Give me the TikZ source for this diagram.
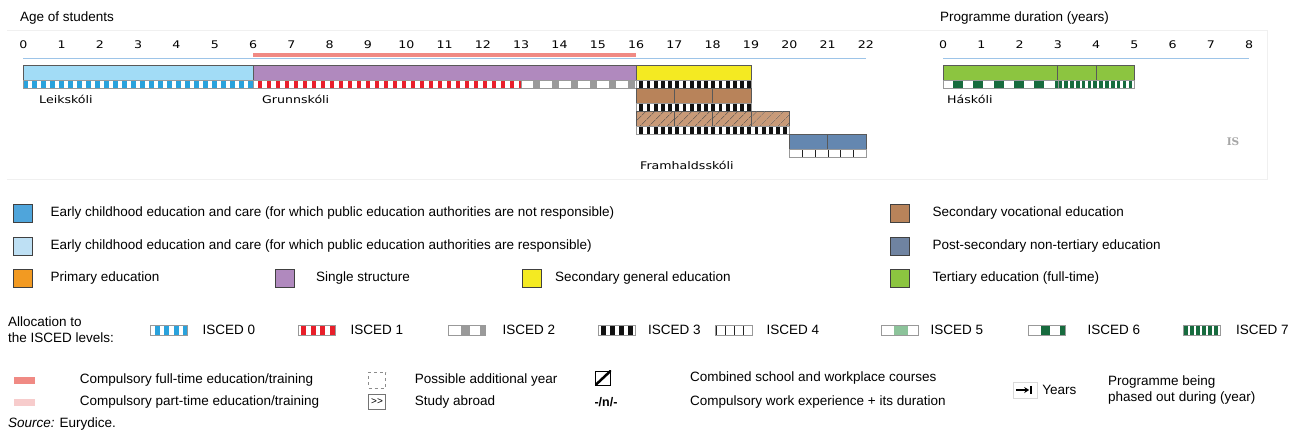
\documentclass[tikz,border=0pt]{standalone}
\usepackage{fontspec}
\setmainfont{Liberation Sans}
\newfontfamily\chartfont[FakeStretch=1.2]{DejaVu Sans}
\newfontfamily\isfont{DejaVu Serif}
\usetikzlibrary{positioning,patterns.meta,arrows.meta}

\definecolor{ececdark}{HTML}{4FA5DB}
\definecolor{ececlight}{HTML}{BEE0F4}
\definecolor{ececbar}{HTML}{A2DCF6}
\definecolor{primary}{HTML}{F29A22}
\definecolor{single}{HTML}{B089BE}
\definecolor{secgen}{HTML}{F4EA22}
\definecolor{secvoc}{HTML}{B8835A}
\definecolor{secvochatch}{HTML}{C89A78}
\definecolor{postsec}{HTML}{6487B0}
\definecolor{postseclegend}{HTML}{6F83A1}
\definecolor{tertiary}{HTML}{8CC540}
\definecolor{iscedzero}{HTML}{2AA2DC}
\definecolor{iscedone}{HTML}{E81F2A}
\definecolor{iscedtwo}{HTML}{9A9A9A}
\definecolor{iscedthree}{HTML}{111111}
\definecolor{iscedfour}{HTML}{222222}
\definecolor{iscedfive}{HTML}{8CC39A}
\definecolor{iscedsix}{HTML}{176B3E}
\definecolor{compfull}{HTML}{F08A84}
\definecolor{comppart}{HTML}{F7CCCC}
\definecolor{axisblue}{HTML}{9DC4E8}

% x position of an age / of a programme year (in px)
\newcommand{\age}[1]{(23.3+38.3*(#1))}
\newcommand{\dur}[1]{(943+38.25*(#1))}

% from, to, top, bottom, colour, cycle, offset, block
\newcommand{\levelstrip}[8]{%
    \begin{scope}
        \clip ({#1},#3) rectangle ({#2},#4);
        \fill[white] ({#1},#3) rectangle ({#2},#4);
        \pgfmathtruncatemacro\nblocks{((#2)-(#1))/(#6)}
        \foreach \k in {0,...,\nblocks}
            \fill[#5] ({#1+#7+\k*#6},#3) rectangle ++(#8,{#4-#3});
    \end{scope}
    \draw[stripedge] ({#1},#3) rectangle ({#2},#4);
}

\tikzset{
    headtext/.style = {
        anchor=west,
        inner sep=0pt,
        font=\fontsize{13.5}{15}\selectfont,
        },
    legtext/.style = {
        anchor=west,
        inner sep=0pt,
        align=left,
        font=\fontsize{13.5}{16}\selectfont,
        },
    age num/.style = {
        inner sep=0pt,
        font=\chartfont\fontsize{10.5}{12}\selectfont,
        },
    school/.style = {
        anchor=west,
        inner sep=0pt,
        font=\chartfont\fontsize{10.5}{12}\selectfont,
        },
    frame/.style = {
        draw=black!6,
        line width=0.6pt,
        },
    axis line/.style = {
        draw=axisblue,
        line width=1.3pt,
        },
    compulsory line/.style = {
        draw=compfull,
        line width=4pt,
        },
    barbox/.style = {
        draw=black!65,
        line width=0.6pt,
        },
    stripedge/.style = {
        draw=black!40,
        line width=0.5pt,
        },
    hatch/.style = {
        postaction = {
            pattern={Lines[angle=45,distance=6.5pt,line width=0.45pt]},
            pattern color=black!70,
            },
        },
    swatch/.style = {
        draw=black!75,
        line width=0.7pt,
        minimum width=19pt,
        minimum height=18pt,
        inner sep=0pt,
        },
}

\begin{document}
\begin{tikzpicture}[x=1pt,y=-1pt]
    \useasboundingbox (0,0) rectangle (1289,434);
    \fill[white] (0,0) rectangle (1289,434);

    \draw[frame] (7,30) -- (1267,30) -- (1267,179) -- (7,179);

    \node[headtext] (age title) at (20,18) {Age of students};
    \node[headtext] (prog title) at (940,18) {Programme duration (years)};

    % axes
    \draw[axis line] ({\age{0}},58.3) -- ({\age{22}},58.3);
    \draw[compulsory line] ({\age{6}},54.7) -- ({\age{16}},54.7);
    \foreach \a in {0,...,22}
        \node[age num] (age-\a) at ({\age{\a}},45) {\a};
    \draw[axis line] ({\dur{0}},58.3) -- ({\dur{8}},58.3);
    \foreach \b in {0,...,8}
        \node[age num] (dur-\b) at ({\dur{\b}},45) {\b};

    % Leikskoli
    \draw[barbox, fill=ececbar] ({\age{0}},65) rectangle ({\age{6}},80);
    \levelstrip{\age{0}}{\age{6}}{80}{88}{iscedzero}{9}{0}{4.5}
    % Grunnskoli
    \draw[barbox, fill=single] ({\age{6}},65) rectangle ({\age{16}},80);
    \levelstrip{\age{6}}{\age{13}}{80}{88}{iscedone}{9}{4.5}{4.5}
    \levelstrip{\age{13}}{\age{16}}{80}{88}{iscedtwo}{19}{12}{7}
    % Framhaldsskoli
    \draw[barbox, fill=secgen] ({\age{16}},65) rectangle ({\age{19}},80);
    \levelstrip{\age{16}}{\age{19}}{80}{88}{iscedthree}{7.2}{3.2}{3.8}
    \foreach \a in {16,17,18}
        \draw[barbox, fill=secvoc] ({\age{\a}},88) rectangle ({\age{\a+1}},103);
    \levelstrip{\age{16}}{\age{19}}{103}{111}{iscedthree}{7.2}{3.2}{3.8}
    \foreach \a in {16,...,19}
        \draw[barbox, fill=secvochatch, hatch] ({\age{\a}},111) rectangle ({\age{\a+1}},126);
    \levelstrip{\age{16}}{\age{20}}{126}{134}{iscedthree}{7.2}{3.2}{3.8}
    \foreach \a in {20,21}
        \draw[barbox, fill=postsec] ({\age{\a}},134) rectangle ({\age{\a+1}},149);
    \levelstrip{\age{20}}{\age{22}}{149}{157}{iscedfour}{12.77}{0}{0.8}
    % Haskoli
    \draw[barbox, fill=tertiary] ({\dur{0}},65) rectangle ({\dur{3}},80);
    \draw[barbox, fill=tertiary] ({\dur{3}},65) rectangle ({\dur{4}},80);
    \draw[barbox, fill=tertiary] ({\dur{4}},65) rectangle ({\dur{5}},80);
    \levelstrip{\dur{0}}{\dur{3}}{80}{88}{iscedsix}{20.3}{10}{10}
    \levelstrip{\dur{3}}{\dur{5}}{80}{88}{iscedsix}{5.85}{0.6}{3.6}

    \node[school] (leik) at (39,99) {Leikskóli};
    \node[school] (grunn) at (262,99) {Grunnskóli};
    \node[school] (framh) at (640,165) {Framhaldsskóli};
    \node[school] (hask) at (947,99) {Háskóli};
    \node[text=black!35, inner sep=0pt, font=\isfont\bfseries\fontsize{10.5}{11}\selectfont] (country) at (1233,142) {IS};

    % legend: colours
    \node[swatch, fill=ececdark] (sw ecec nr) at (22.5,213) {};
    \node[legtext, right=18pt of sw ecec nr] (tx ecec nr) {Early childhood education and care (for which public education authorities are not responsible)};
    \node[swatch, fill=ececlight] (sw ecec r) at (22.5,246) {};
    \node[legtext, right=18pt of sw ecec r] (tx ecec r) {Early childhood education and care (for which public education authorities are responsible)};
    \node[swatch, fill=primary] (sw prim) at (22.5,278) {};
    \node[legtext, right=18pt of sw prim] (tx prim) {Primary education};
    \node[swatch, fill=single] (sw single) at (285,278) {};
    \node[legtext, right=21pt of sw single] (tx single) {Single structure};
    \node[swatch, fill=secgen] (sw secgen) at (532,278) {};
    \node[legtext, right=13pt of sw secgen] (tx secgen) {Secondary general education};
    \node[swatch, fill=secvoc] (sw secvoc) at (899.5,213) {};
    \node[legtext, right=23pt of sw secvoc] (tx secvoc) {Secondary vocational education};
    \node[swatch, fill=postseclegend] (sw postsec) at (899.5,246) {};
    \node[legtext, right=23pt of sw postsec] (tx postsec) {Post-secondary non-tertiary education};
    \node[swatch, fill=tertiary] (sw tert) at (899.5,278) {};
    \node[legtext, right=23pt of sw tert] (tx tert) {Tertiary education (full-time)};

    % legend: ISCED levels
    \node[legtext] (alloc) at (8,330) {Allocation to\\the ISCED levels:};
    \levelstrip{150.5}{187.5}{325}{335}{iscedzero}{9.5}{4}{5}
    \coordinate (lv0) at (187.5,330);
    \node[legtext, right=15pt of lv0] (tx lv0) {ISCED 0};
    \levelstrip{298.5}{335.5}{325}{335}{iscedone}{9.5}{2.5}{5}
    \coordinate (lv1) at (335.5,330);
    \node[legtext, right=15pt of lv1] (tx lv1) {ISCED 1};
    \levelstrip{448.5}{485.5}{325}{335}{iscedtwo}{19}{12}{9}
    \coordinate (lv2) at (485.5,330);
    \node[legtext, right=17pt of lv2] (tx lv2) {ISCED 2};
    \levelstrip{598}{635}{325}{335}{iscedthree}{9}{3}{4.5}
    \coordinate (lv3) at (635,330);
    \node[legtext, right=13pt of lv3] (tx lv3) {ISCED 3};
    \levelstrip{715.5}{752.5}{325}{335}{iscedfour}{9.25}{0}{0.8}
    \coordinate (lv4) at (752.5,330);
    \node[legtext, right=14pt of lv4] (tx lv4) {ISCED 4};
    \levelstrip{881.5}{918.5}{325}{335}{iscedfive}{40}{12}{14}
    \coordinate (lv5) at (918.5,330);
    \node[legtext, right=12pt of lv5] (tx lv5) {ISCED 5};
    \levelstrip{1028.5}{1065.5}{325}{335}{iscedsix}{19}{12}{9}
    \coordinate (lv6) at (1065.5,330);
    \node[legtext, right=22pt of lv6] (tx lv6) {ISCED 6};
    \levelstrip{1183}{1220}{325}{335}{iscedsix}{6}{1}{4}
    \coordinate (lv7) at (1220,330);
    \node[legtext, right=16pt of lv7] (tx lv7) {ISCED 7};

    % legend: other signs
    \node[fill=compfull, minimum width=21pt, minimum height=7pt, inner sep=0pt] (sw cfull) at (24,380) {};
    \node[legtext, right=45pt of sw cfull] (tx cfull) {Compulsory full-time education/training};
    \node[fill=comppart, minimum width=21pt, minimum height=7pt, inner sep=0pt] (sw cpart) at (24,402) {};
    \node[legtext, right=45pt of sw cpart] (tx cpart) {Compulsory part-time education/training};
    \node[draw=black!45, dashed, minimum width=17pt, minimum height=16pt, inner sep=0pt] (sw extra) at (377,380) {};
    \node[legtext, right=29pt of sw extra] (tx extra) {Possible additional year};
    \node[draw=black!55, minimum width=17pt, minimum height=15pt, inner sep=0pt, font=\fontsize{10}{10}\selectfont] (sw abroad) at (377,402) {>{}>};
    \node[legtext, right=29pt of sw abroad] (tx abroad) {Study abroad};
    \node[draw=black, line width=1pt, minimum width=15pt, minimum height=14pt, inner sep=0pt] (sw combined) at (603,378) {};
    \begin{scope}
        \clip (sw combined.south west) rectangle (sw combined.north east);
        \draw[line width=2.5pt] (sw combined.south west) -- (sw combined.north east);
    \end{scope}
    \node[legtext, right=79pt of sw combined] (tx combined) {Combined school and workplace courses};
    \node[inner sep=0pt, font=\bfseries\fontsize{12.5}{12}\selectfont] (sw workexp) at (606,402) {-/n/-};
    \node[legtext] (tx workexp) at (690,402) {Compulsory work experience + its duration};
    % arrow to a bar, in a faint box
    \node[draw=black!15, minimum width=24pt, minimum height=16pt, inner sep=0pt] (sw years) at (1025,390) {};
    \draw[line width=1.3pt, -{Stealth[length=5pt,width=6pt]}] ([xshift=3pt]sw years.west) -- ([xshift=-8pt]sw years.east);
    \draw[line width=1.6pt] ([xshift=-6pt,yshift=-4pt]sw years.north east) -- ([xshift=-6pt,yshift=4pt]sw years.south east);
    \node[legtext, right=5pt of sw years] (tx years) {Years};
    \node[legtext] (tx phased) at (1108,390) {Programme being\\phased out during (year)};

    \node[legtext] (source) at (8,424) {\textit{Source:} Eurydice.};
\end{tikzpicture}
\end{document}
